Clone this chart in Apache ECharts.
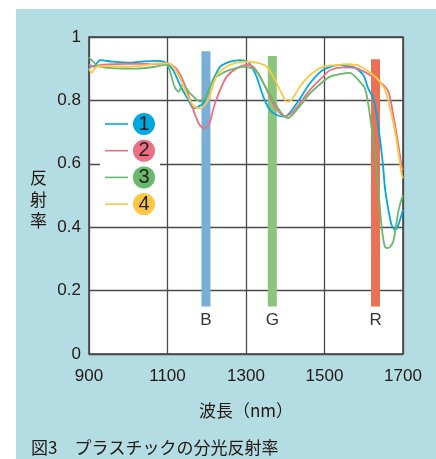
<!DOCTYPE html>
<html><head><meta charset="utf-8">
<script src="https://cdn.jsdelivr.net/npm/echarts@6/dist/echarts.min.js"></script>
<style>html,body{margin:0;padding:0;background:#fff}#c{width:436px;height:459px}</style>
</head><body><div id="c"></div>
<script>
// ---- data ----
const seriesNames = ['1', '2', '3', '4'];
const nm1 = [900, 915, 928, 960, 1007, 1040, 1068, 1093, 1114, 1134, 1152, 1166, 1178, 1190, 1216, 1234, 1260, 1285, 1305, 1315, 1327, 1344, 1361, 1378, 1399, 1429, 1463, 1496, 1539, 1552, 1575, 1599, 1611, 1624, 1633, 1641, 1649, 1654, 1662, 1671, 1680, 1688, 1700];
const r1  = [0.905, 0.91, 0.927, 0.922, 0.919, 0.923, 0.925, 0.921, 0.896, 0.843, 0.804, 0.775, 0.78, 0.79, 0.864, 0.906, 0.922, 0.927, 0.921, 0.905, 0.875, 0.812, 0.77, 0.754, 0.749, 0.79, 0.854, 0.896, 0.912, 0.909, 0.905, 0.88, 0.839, 0.807, 0.754, 0.681, 0.596, 0.524, 0.46, 0.407, 0.391, 0.407, 0.455];
const nm2 = [900, 914, 931, 1000, 1060, 1101, 1122, 1139, 1152, 1169, 1182, 1195, 1207, 1216, 1221, 1234, 1251, 1276, 1302, 1318, 1336, 1353, 1369, 1387, 1399, 1420, 1463, 1496, 1514, 1547, 1582, 1616, 1641, 1663, 1675, 1684, 1697, 1700];
const r2  = [0.912, 0.906, 0.912, 0.915, 0.915, 0.917, 0.901, 0.864, 0.822, 0.759, 0.722, 0.712, 0.728, 0.77, 0.79, 0.833, 0.875, 0.901, 0.912, 0.906, 0.875, 0.833, 0.791, 0.759, 0.749, 0.764, 0.833, 0.875, 0.895, 0.904, 0.901, 0.88, 0.859, 0.827, 0.754, 0.691, 0.59, 0.58];
const nm3 = [900, 920, 935, 970, 1020, 1068, 1095, 1102, 1109, 1118, 1128, 1139, 1157, 1183, 1196, 1203, 1216, 1234, 1259, 1293, 1318, 1331, 1349, 1369, 1391, 1407, 1429, 1463, 1496, 1514, 1539, 1565, 1578, 1590, 1603, 1612, 1620, 1629, 1637, 1646, 1654, 1662, 1675, 1688, 1697, 1700];
const r3  = [0.936, 0.912, 0.905, 0.901, 0.9, 0.906, 0.912, 0.906, 0.88, 0.843, 0.827, 0.849, 0.823, 0.796, 0.808, 0.823, 0.864, 0.882, 0.896, 0.906, 0.901, 0.885, 0.843, 0.801, 0.759, 0.744, 0.77, 0.822, 0.859, 0.875, 0.883, 0.887, 0.875, 0.859, 0.838, 0.785, 0.713, 0.628, 0.524, 0.397, 0.338, 0.334, 0.354, 0.449, 0.491, 0.5];
const nm4 = [900, 907, 918, 950, 1000, 1050, 1068, 1101, 1118, 1134, 1152, 1169, 1185, 1198, 1207, 1216, 1229, 1259, 1293, 1327, 1353, 1374, 1391, 1404, 1416, 1437, 1463, 1496, 1539, 1548, 1582, 1607, 1633, 1654, 1667, 1680, 1688, 1697, 1700];
const r4  = [0.9, 0.887, 0.905, 0.908, 0.906, 0.912, 0.917, 0.917, 0.901, 0.864, 0.812, 0.78, 0.775, 0.79, 0.812, 0.849, 0.885, 0.912, 0.922, 0.919, 0.906, 0.864, 0.822, 0.796, 0.801, 0.843, 0.88, 0.906, 0.912, 0.914, 0.912, 0.896, 0.87, 0.833, 0.775, 0.701, 0.638, 0.565, 0.555];
const bandNames = ['B', 'G', 'R'];
const bandNm    = [1198, 1367, 1630];
const bandLow   = [0.15, 0.15, 0.15];
const bandHigh  = [0.955, 0.94, 0.93];
const xTickLabels = ['900', '1100', '1300', '1500', '1700'];
const yTickLabels = ['0', '0.2', '0.4', '0.6', '0.8', '1'];
// ---- styles ----
const lineColors = ['#00a8e0', '#ec6f84', '#69b86c', '#fcc844'];
const bandColors = ['#79aed6', '#8bc47a', '#e97155'];
const FONT = '"Liberation Sans", "Noto Sans CJK JP", sans-serif';
const JFONT = '"Noto Sans CJK JP", sans-serif';
const TXT = '#231815';

const zip = (a, b) => a.map((v, i) => [v, b[i]]);
const lineData = [zip(nm1, r1), zip(nm2, r2), zip(nm3, r3), zip(nm4, r4)];

const rich = {};
seriesNames.forEach((n, i) => {
  rich['c' + n] = {
    backgroundColor: lineColors[i], width: 22, height: 22, borderRadius: 11,
    align: 'center', verticalAlign: 'middle', lineHeight: 22,
    fontSize: 20, fontFamily: FONT, color: '#222'
  };
});

const chart = echarts.init(document.getElementById('c'), null, { renderer: 'canvas' });
chart.setOption({
  animation: false,
  backgroundColor: '#ffffff',
  graphic: [
    { type: 'rect', z: -100, silent: true, shape: { x: 16, y: 9, width: 420, height: 450 }, style: { fill: '#b3dde3' } },
    { type: 'text', left: 30, top: 167, style: { text: '反\n射\n率', fontSize: 17, lineHeight: 21.5, fontFamily: JFONT, fill: TXT } },
    { type: 'text', left: 31, top: 439, style: { text: '図3　プラスチックの分光反射率', fontSize: 17, fontFamily: JFONT, fill: TXT } }
  ],
  grid: { left: 89, top: 37, width: 314, height: 317, show: true, backgroundColor: '#ffffff', borderColor: '#3a3a3a', borderWidth: 1.5 },
  legend: {
    orient: 'vertical', left: 100, top: 108, padding: 5, itemGap: 4.7,
    backgroundColor: '#ffffff', icon: 'rect', itemWidth: 23, itemHeight: 1.6,
    data: seriesNames,
    formatter: n => '{c' + n + '|' + n + '}',
    textStyle: { rich: rich }
  },
  xAxis: {
    type: 'value', min: 900, max: 1700, interval: 200,
    axisLine: { show: false }, axisTick: { show: false },
    splitLine: { show: true, lineStyle: { color: '#4a4a4a', width: 1.3 } },
    axisLabel: { margin: 14, fontSize: 17, fontFamily: FONT, color: TXT,
      formatter: (v) => xTickLabels[Math.round((v - 900) / 200)] },
    name: '波長（nm）', nameLocation: 'middle', nameGap: 48,
    nameTextStyle: { fontSize: 17, fontFamily: JFONT, color: TXT }
  },
  yAxis: {
    type: 'value', min: 0, max: 1, interval: 0.2,
    axisLine: { show: false }, axisTick: { show: false },
    splitLine: { show: true, lineStyle: { color: '#4a4a4a', width: 1.3 } },
    axisLabel: { margin: 8, fontSize: 17, fontFamily: FONT, color: TXT,
      formatter: (v) => yTickLabels[Math.round(v / 0.2)] }
  },
  series: lineData.map((d, i) => ({
    name: seriesNames[i], type: 'line', data: d, showSymbol: false, symbol: 'none',
    smooth: 0.25, z: 3,
    lineStyle: { color: lineColors[i], width: 1.8 }, itemStyle: { color: lineColors[i] }
  })).concat([{
    type: 'custom', z: 2,
    data: bandNames.map((n, i) => [bandNm[i], bandLow[i], bandHigh[i], i]),
    renderItem: (params, api) => {
      const x = api.value(0), lo = api.value(1), hi = api.value(2), idx = api.value(3);
      const top = api.coord([x, hi]);
      const bot = api.coord([x, lo]);
      const w = 9;
      return {
        type: 'group',
        children: [
          { type: 'rect', shape: { x: top[0] - w / 2, y: top[1], width: w, height: bot[1] - top[1] }, style: { fill: bandColors[idx] } },
          { type: 'text', x: bot[0], y: bot[1] + 14, style: { text: bandNames[idx], fontSize: 17, fontFamily: FONT, fill: '#333', align: 'center', verticalAlign: 'middle' } }
        ]
      };
    }
  }])
});
</script></body></html>
